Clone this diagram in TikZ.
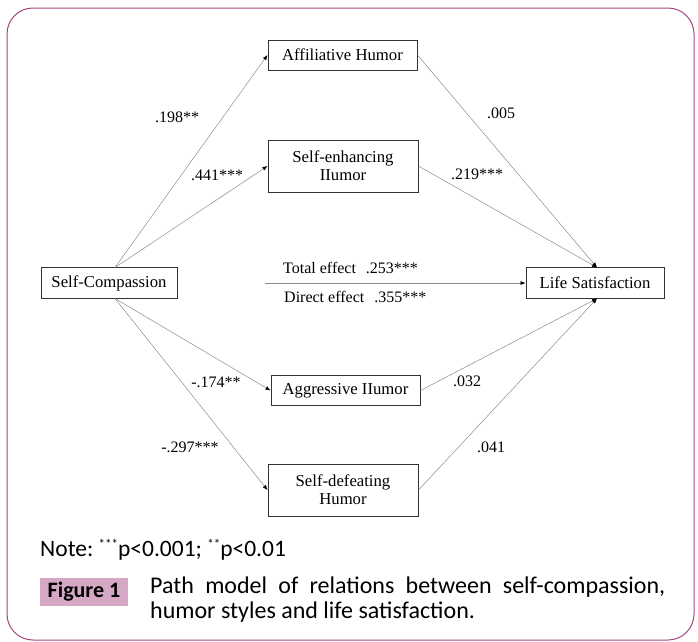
\documentclass[tikz,border=0pt]{standalone}
\usepackage{fontspec}
\setmainfont{Liberation Serif}
\newfontfamily\notefont{Carlito}
\usetikzlibrary{arrows.meta}
\definecolor{bordercol}{HTML}{A8467F}
\definecolor{figfill}{HTML}{D5A8C5}
\tikzset{
  box/.style={draw=black!80, line width=1pt, fill=white, font=\fontsize{16.7}{18}\selectfont, inner sep=0pt, align=center},
  path/.style={draw=black!45, line width=0.5pt, -{Latex[length=5pt,width=4pt,fill=black,color=black]}},
  lab/.style={font=\fontsize{16}{18}\selectfont, inner sep=0pt},
}
\newcommand{\tinysup}[1]{\raisebox{0.65ex}{\fontsize{13}{13}\selectfont #1}}
\begin{document}
\begin{tikzpicture}[x=1pt,y=-1pt]
\useasboundingbox (0,0) rectangle (698,641);
\draw[bordercol, line width=1pt, rounded corners=26pt] (7,8) rectangle (694,640);
% nodes
\node[box, minimum width=149pt, minimum height=30pt] (aff) at (342.5,55) {Affiliative Humor};
\node[box, minimum width=150pt, minimum height=52pt] (enh) at (343,166) {Self-enhancing\\IIumor};
\node[box, minimum width=136pt, minimum height=31pt] (sc) at (109,283) {Self-Compassion};
\node[box, minimum width=138pt, minimum height=31pt] (ls) at (595,283) {Life Satisfaction};
\node[box, minimum width=149pt, minimum height=30pt] (agg) at (345.5,390.5) {Aggressive IIumor};
\node[box, minimum width=150pt, minimum height=52pt] (def) at (343,490) {Self-defeating\\Humor};
\coordinate (scT) at (115,267.5);
\coordinate (scB) at (115,298.5);
\coordinate (lsT) at (597,267.5);
\coordinate (lsB) at (597,298.5);
\coordinate (mid) at (265,283);
% paths
\draw[path] (scT) -- (aff.west);
\draw[path] (scT) -- (enh.west);
\draw[path] (scB) -- (agg.west);
\draw[path] (scB) -- (def.west);
\draw[path] (aff.east) -- (lsT);
\draw[path] (enh.east) -- (lsT);
\draw[path] (agg.east) -- (lsB);
\draw[path] (def.east) -- (lsB);
\draw[path] (mid) -- (ls.west);
% labels
\node[lab] (l1) at (177,117) {.198**};
\node[lab] (l2) at (217,175) {.441***};
\node[lab] (l3) at (501,113) {.005};
\node[lab] (l4) at (477,174) {.219***};
\node[lab, anchor=west] (l5) at (283,268) {Total effect\hspace{10pt}.253***};
\node[lab, anchor=west] (l6) at (284,297) {Direct effect\hspace{10pt}.355***};
\node[lab] (l7) at (216,382) {-.174**};
\node[lab] (l8) at (467,381) {.032};
\node[lab] (l9) at (190,447) {-.297***};
\node[lab] (l10) at (491,447) {.041};
% note and caption
\node[anchor=base west, font=\notefont\fontsize{23.5}{26}\selectfont, inner sep=0pt] (note) at (40,556) {Note:\ \tinysup{***}p<0.001; \tinysup{**}p<0.01};
\node[fill=figfill, font=\notefont\bfseries\fontsize{22}{24}\selectfont, minimum width=88pt, minimum height=28pt, inner sep=0pt] (fig) at (84,592) {Figure 1};
\node[anchor=north west, font=\notefont\fontsize{24}{24.5}\selectfont, text width=515pt, align=justify, inner sep=0pt] (cap) at (150,577) {\hyphenpenalty=10000 Path model of relations between self-compassion,\linebreak humor styles and life satisfaction.};
\end{tikzpicture}
\end{document}
